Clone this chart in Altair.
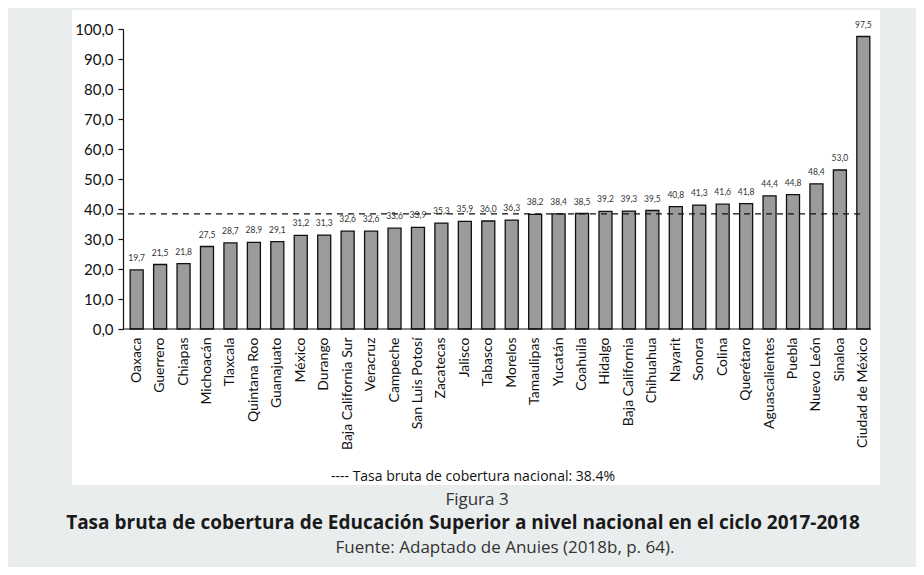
import altair as alt
import pandas as pd

estados = ["Oaxaca", "Guerrero", "Chiapas", "Michoacán", "Tlaxcala", "Quintana Roo",
           "Guanajuato", "México", "Durango", "Baja California Sur", "Veracruz",
           "Campeche", "San Luis Potosí", "Zacatecas", "Jalisco", "Tabasco", "Morelos",
           "Tamaulipas", "Yucatán", "Coahuila", "Hidalgo", "Baja California",
           "Chihuahua", "Nayarit", "Sonora", "Colina", "Querétaro", "Aguascalientes",
           "Puebla", "Nuevo León", "Sinaloa", "Ciudad de México"]
valores = [19.7, 21.5, 21.8, 27.5, 28.7, 28.9, 29.1, 31.2, 31.3, 32.6, 32.6, 33.6,
           33.9, 35.3, 35.9, 36.0, 36.3, 38.2, 38.4, 38.5, 39.2, 39.3, 39.5, 40.8,
           41.3, 41.6, 41.8, 44.4, 44.8, 48.4, 53.0, 97.5]
tasa_nacional = 38.4
y_ticks = [0, 10, 20, 30, 40, 50, 60, 70, 80, 90, 100]

df = pd.DataFrame({"estado": estados, "valor": valores})
df["etiqueta"] = [f"{v:.1f}".replace(".", ",") for v in valores]

W, H = 742, 300
AXIS_FONT = "Lato"
CAP_FONT = "Open Sans"

x_axis = alt.Axis(title=None, labelAngle=-90, labelAlign="right",
                  labelBaseline="middle", labelFontSize=14,
                  labelFont=AXIS_FONT, labelColor="#111",
                  ticks=False, domain=False, labelPadding=8, zindex=2)
y_scale = alt.Scale(domain=[0, 100], nice=False)
y_axis = alt.Axis(title=None, values=y_ticks, tickCount=len(y_ticks), grid=False, offset=6,
                  labelOverlap=False,
                  labelExpr="replace(format(datum.value, '.1f'), '.', ',')",
                  labelFontSize=15, labelFont=AXIS_FONT, labelColor="#111",
                  tickSize=5, tickColor="#111", domainColor="#111",
                  domainWidth=1.2, tickWidth=1.2, labelPadding=5, zindex=2)
x_scale = alt.Scale(paddingInner=0.445, paddingOuter=0.05)

panel = alt.Chart(pd.DataFrame({"k": [0]})).mark_rect(color="white").encode(
    x=alt.value(-57), x2=alt.value(751), y=alt.value(-19), y2=alt.value(456))

bars = alt.Chart(df).mark_bar(color="#9b9b9b", stroke="#111", strokeWidth=1.3).encode(
    x=alt.X("estado:N", sort=None, scale=x_scale, axis=x_axis),
    y=alt.Y("valor:Q", scale=y_scale, axis=y_axis))

baseline = alt.Chart(pd.DataFrame({"valor": [0]})).mark_rule(color="#111", strokeWidth=1.2).encode(
    y=alt.Y("valor:Q", scale=y_scale, axis=y_axis),
    x=alt.value(-6), x2=alt.value(W))

labels = alt.Chart(df).mark_text(dy=-7, fontSize=8.5, font=AXIS_FONT, color="#333",
                                 baseline="bottom").encode(
    x=alt.X("estado:N", sort=None, scale=x_scale, axis=x_axis),
    y=alt.Y("valor:Q", scale=y_scale, axis=y_axis),
    text="etiqueta:N")

nac = alt.Chart(pd.DataFrame({"valor": [tasa_nacional]})).mark_rule(
    color="#111", strokeWidth=1.2, strokeDash=[6, 5]).encode(
    y=alt.Y("valor:Q", scale=y_scale, axis=y_axis),
    x=alt.value(-12), x2=alt.value(736))

def caption(txt, xv, yv, size, weight="normal", color="#222", font=CAP_FONT):
    return alt.Chart(pd.DataFrame({"k": [0]})).mark_text(
        fontSize=size, fontWeight=weight, color=color, font=font,
        align="center", baseline="middle").encode(
        x=alt.value(xv), y=alt.value(yv), text=alt.value(txt))

leyenda = caption("----  Tasa bruta de cobertura nacional: 38.4%", 344, 448, 14,
                  color="#111")
figura = caption("Figura 3", 348, 471, 17, color="#333")
titulo = caption("Tasa bruta de cobertura de Educación Superior a nivel nacional en el ciclo 2017-2018",
                 334, 494, 19, weight="bold", color="#1a1a1a")
fuente = caption("Fuente: Adaptado de Anuies (2018b, p. 64).", 376, 519, 17, color="#333")

chart = alt.layer(panel, bars, baseline, labels, nac, leyenda, figura, titulo, fuente).properties(
    width=W, height=H,
    autosize=alt.AutoSizeParams(type="none"),
    padding={"left": 121, "top": 21, "right": 45, "bottom": 238},
    background="#e9edee",
).configure_view(stroke=None)

chart.save("out.html", embed_options={"renderer": "svg", "actions": False})
